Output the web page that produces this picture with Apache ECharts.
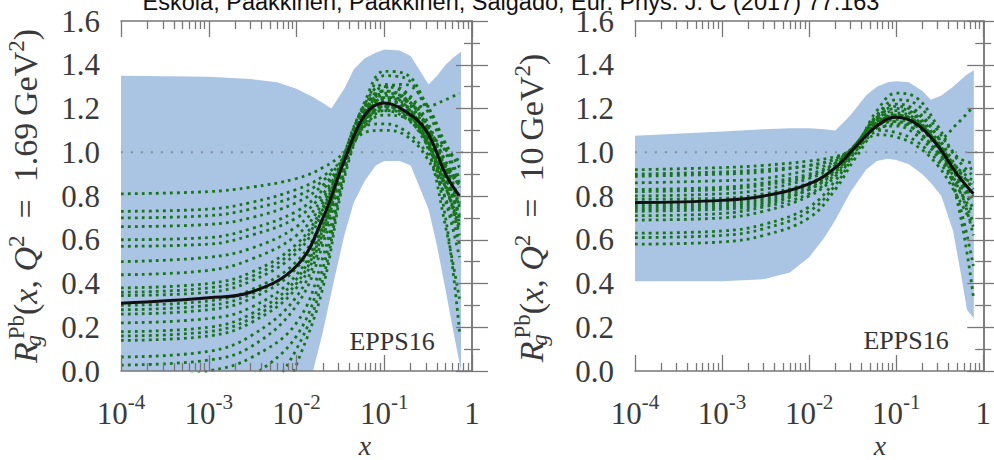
<!DOCTYPE html>
<html>
<head>
<meta charset="utf-8">
<title>EPPS16 gluon nuclear modification, Pb</title>
<script src="https://cdn.jsdelivr.net/npm/echarts@6/dist/echarts.min.js"></script>
<style>
  html, body { margin: 0; padding: 0; background: #ffffff; }
  #chart { width: 994px; height: 460px; }
</style>
</head>
<body>
<div id="chart"></div>
<script>
// ---------- axes ----------
const decadeExponents = [-4, -3, -2, -1, 0];          // 10^-4 ... 1
const minorMultipliers = [2, 3, 4, 5, 6, 7, 8, 9];    // minor ticks inside each decade
const yTickStep = 0.2;
const refLevel = 1.0;

// ---------- Q^2 = 1.69 GeV^2 ----------
const lowBandX     = [1e-4, 1e-3, 3e-3, 0.006, 0.01, 0.015, 0.02, 0.025, 0.035, 0.045, 0.06, 0.08, 0.1, 0.15, 0.2, 0.32, 0.4, 0.5, 0.6, 0.75];
const lowBandUpper = [1.35, 1.345, 1.335, 1.32, 1.29, 1.255, 1.225, 1.20, 1.29, 1.38, 1.43, 1.455, 1.47, 1.465, 1.44, 1.31, 1.35, 1.40, 1.43, 1.46];
const lowBandLower = [-0.6, -0.6, -0.55, -0.45, -0.25, -0.02, 0.18, 0.36, 0.62, 0.77, 0.87, 0.94, 0.96, 0.96, 0.94, 0.74, 0.57, 0.37, 0.20, 0.0];

const lowCurveX  = [1e-4, 1e-3, 3e-3, 0.01, 0.02, 0.035, 0.06, 0.1, 0.17, 0.3, 0.5, 0.72];
const lowCentral = [0.31, 0.335, 0.36, 0.48, 0.70, 0.96, 1.17, 1.225, 1.19, 1.10, 0.90, 0.80];
const lowMembers = [
  [0.81, 0.82, 0.84, 0.88, 0.93, 1.00, 1.12, 1.19, 1.18, 1.07, 0.93, 0.85],
  [0.73, 0.74, 0.77, 0.83, 0.89, 0.98, 1.15, 1.25, 1.24, 1.12, 0.96, 0.84],
  [0.70, 0.71, 0.74, 0.80, 0.87, 0.98, 1.17, 1.29, 1.31, 1.22, 1.04, 0.93],
  [0.66, 0.67, 0.70, 0.77, 0.85, 0.96, 1.13, 1.21, 1.19, 1.09, 0.92, 0.79],
  [0.60, 0.61, 0.65, 0.73, 0.83, 0.97, 1.18, 1.30, 1.27, 1.13, 0.92, 0.75],
  [0.57, 0.58, 0.62, 0.70, 0.81, 0.96, 1.12, 1.17, 1.16, 1.10, 1.01, 0.96],
  [0.50, 0.52, 0.56, 0.66, 0.79, 0.97, 1.20, 1.35, 1.34, 1.20, 1.00, 0.86],
  [0.44, 0.46, 0.51, 0.62, 0.77, 0.97, 1.14, 1.21, 1.21, 1.21, 1.24, 1.27],
  [0.38, 0.40, 0.45, 0.58, 0.75, 0.97, 1.19, 1.27, 1.25, 1.13, 0.95, 0.77],
  [0.36, 0.38, 0.43, 0.56, 0.74, 0.96, 1.16, 1.23, 1.21, 1.09, 0.89, 0.70],
  [0.345, 0.36, 0.41, 0.54, 0.73, 0.98, 1.23, 1.37, 1.36, 1.22, 1.02, 0.88],
  [0.30, 0.32, 0.37, 0.50, 0.70, 0.98, 1.17, 1.21, 1.17, 1.04, 0.84, 0.68],
  [0.28, 0.30, 0.35, 0.48, 0.69, 0.97, 1.15, 1.19, 1.16, 1.06, 0.94, 0.87],
  [0.26, 0.28, 0.33, 0.47, 0.69, 0.99, 1.21, 1.28, 1.24, 1.10, 0.89, 0.71],
  [0.22, 0.24, 0.29, 0.44, 0.67, 0.97, 1.12, 1.13, 1.10, 1.00, 0.84, 0.66],
  [0.18, 0.20, 0.26, 0.42, 0.66, 0.98, 1.18, 1.24, 1.21, 1.08, 0.87, 0.72],
  [0.16, 0.18, 0.24, 0.40, 0.65, 0.99, 1.22, 1.31, 1.28, 1.15, 0.93, 0.76],
  [0.14, 0.16, 0.22, 0.38, 0.63, 0.96, 1.09, 1.10, 1.08, 0.98, 0.79, 0.58],
  [0.064, 0.09, 0.16, 0.34, 0.61, 0.97, 1.18, 1.25, 1.22, 1.07, 0.78, 0.52],
  [0.027, 0.05, 0.11, 0.30, 0.58, 0.95, 1.16, 1.24, 1.20, 1.04, 0.66, 0.33],
  [-0.05, 0.00, 0.06, 0.22, 0.52, 0.93, 1.20, 1.28, 1.25, 1.08, 0.70, 0.18],
  [-0.30, -0.15, -0.03, 0.16, 0.47, 0.92, 1.19, 1.26, 1.22, 1.06, 0.84, 0.64],
  [-0.60, -0.45, -0.20, 0.10, 0.42, 0.90, 1.15, 1.22, 1.19, 1.06, 0.88, 0.76],
  [-0.90, -0.75, -0.45, 0.03, 0.38, 0.88, 1.14, 1.20, 1.18, 1.05, 0.85, 0.62]
];

// ---------- Q^2 = 10 GeV^2 ----------
const highBandX     = [1e-4, 1e-3, 3e-3, 0.006, 0.01, 0.015, 0.02, 0.03, 0.045, 0.06, 0.08, 0.1, 0.14, 0.2, 0.25, 0.33, 0.45, 0.55, 0.65, 0.78];
const highBandUpper = [1.075, 1.095, 1.105, 1.11, 1.11, 1.105, 1.10, 1.17, 1.26, 1.30, 1.32, 1.325, 1.32, 1.28, 1.24, 1.26, 1.30, 1.33, 1.355, 1.375];
const highBandLower = [0.41, 0.41, 0.42, 0.45, 0.52, 0.61, 0.69, 0.82, 0.92, 0.96, 0.97, 0.965, 0.945, 0.90, 0.86, 0.80, 0.64, 0.45, 0.28, 0.24];

const highCurveX  = [1e-4, 1e-3, 3e-3, 0.01, 0.02, 0.035, 0.06, 0.1, 0.17, 0.3, 0.5, 0.77];
const highCentral = [0.77, 0.78, 0.80, 0.855, 0.93, 1.03, 1.12, 1.16, 1.13, 1.03, 0.90, 0.81];
const highMembers = [
  [0.92, 0.93, 0.94, 0.96, 0.98, 1.02, 1.10, 1.13, 1.10, 1.00, 0.90, 0.86],
  [0.90, 0.91, 0.92, 0.94, 0.97, 1.04, 1.19, 1.27, 1.25, 1.12, 0.98, 0.95],
  [0.89, 0.90, 0.91, 0.94, 0.97, 1.03, 1.13, 1.17, 1.14, 1.04, 0.93, 0.87],
  [0.86, 0.87, 0.88, 0.92, 0.96, 1.04, 1.17, 1.24, 1.22, 1.10, 0.97, 0.89],
  [0.83, 0.84, 0.86, 0.90, 0.95, 1.03, 1.12, 1.15, 1.12, 1.02, 0.89, 0.80],
  [0.82, 0.83, 0.85, 0.89, 0.95, 1.04, 1.16, 1.21, 1.18, 1.07, 0.93, 0.83],
  [0.80, 0.81, 0.83, 0.88, 0.94, 1.03, 1.12, 1.14, 1.12, 1.06, 1.13, 1.21],
  [0.785, 0.79, 0.81, 0.86, 0.93, 1.04, 1.16, 1.20, 1.17, 1.05, 0.89, 0.74],
  [0.76, 0.77, 0.79, 0.85, 0.93, 1.03, 1.15, 1.18, 1.15, 1.03, 0.85, 0.68],
  [0.75, 0.76, 0.78, 0.84, 0.92, 1.02, 1.11, 1.12, 1.08, 0.98, 0.86, 0.80],
  [0.74, 0.75, 0.77, 0.83, 0.92, 1.04, 1.14, 1.16, 1.13, 1.01, 0.80, 0.48],
  [0.73, 0.74, 0.76, 0.83, 0.91, 1.03, 1.17, 1.22, 1.19, 1.07, 0.88, 0.62],
  [0.71, 0.72, 0.75, 0.81, 0.90, 1.03, 1.14, 1.17, 1.14, 1.03, 0.78, 0.34],
  [0.69, 0.70, 0.73, 0.80, 0.89, 1.02, 1.15, 1.19, 1.16, 1.04, 0.89, 0.78],
  [0.63, 0.64, 0.67, 0.75, 0.87, 1.01, 1.12, 1.14, 1.10, 1.00, 0.91, 0.93],
  [0.61, 0.62, 0.65, 0.73, 0.85, 1.00, 1.10, 1.09, 1.05, 0.96, 0.84, 0.72],
  [0.58, 0.59, 0.62, 0.70, 0.83, 0.98, 1.08, 1.07, 1.03, 0.94, 0.80, 0.66],
  [0.77, 0.78, 0.80, 0.855, 0.93, 1.03, 1.13, 1.17, 1.14, 1.04, 0.92, 0.84]
];

// ---------- text ----------
const headerText = 'Eskola, Paakkinen, Paakkinen, Salgado, Eur. Phys. J. C (2017) 77:163';
const setLabel = 'EPPS16';
const xTitle = 'x';
const lowYTitle  = '{it|R}{sub|g}{sup|Pb}{rm|(}{it|x}{rm|,\u2005}{it|Q}{sup|2}{rm|\u2002=\u20021.69\u2009GeV}{sup|2}{rm|)}';
const highYTitle = '{it|R}{sub|g}{sup|Pb}{rm|(}{it|x}{rm|,\u2005}{it|Q}{sup|2}{rm|\u2002=\u200210\u2009GeV}{sup|2}{rm|)}';

// ---------- styling ----------
const serif = '"Liberation Serif", "DejaVu Serif", serif';
const textGrey = '#3a3a3a';
const frameGrey = '#777777';
const bandColor = '#aac4e4';
const memberColor = '#177517';

const titleRich = {
  it:  { fontFamily: serif, fontSize: 34, fontStyle: 'italic', color: textGrey },
  rm:  { fontFamily: serif, fontSize: 34, color: textGrey },
  sub: { fontFamily: serif, fontSize: 23, fontStyle: 'italic', color: textGrey, padding: [16, 0, 0, 0], width: 3 },
  sup: { fontFamily: serif, fontSize: 23, color: textGrey, padding: [0, 0, 18, 0] }
};

const minorTickPositions = [];
decadeExponents.slice(0, -1).forEach(e => {
  minorMultipliers.forEach(m => minorTickPositions.push(e + Math.log10(m)));
});

function decadeLabel(v) {
  return v === 0 ? '{b|1}' : '{b|10}{s|' + v + '}';
}

function xAxesFor(gridIndex) {
  const base = { type: 'value', gridIndex, min: -4, max: 0, interval: 1, splitLine: { show: false }, z: 5 };
  const tickLine = { color: frameGrey, width: 1.3 };
  return [
    // log axis that carries the curves
    { type: 'log', gridIndex, logBase: 10, min: 1e-4, max: 1, show: false },
    Object.assign({}, base, {
      position: 'bottom',
      axisLine: { show: true, lineStyle: { color: frameGrey, width: 1.5 } },
      axisTick: { show: true, inside: true, length: 16, lineStyle: tickLine },
      axisLabel: {
        margin: 27, formatter: decadeLabel,
        rich: {
          b: { fontFamily: serif, fontSize: 31, color: textGrey, lineHeight: 31 },
          s: { fontFamily: serif, fontSize: 21, color: textGrey, lineHeight: 31, padding: [0, 0, 24, 0] }
        }
      }
    }),
    Object.assign({}, base, {
      position: 'bottom',
      axisLine: { show: false },
      axisTick: { show: true, inside: true, length: 8, lineStyle: tickLine, customValues: minorTickPositions },
      axisLabel: { show: false }
    }),
    Object.assign({}, base, {
      position: 'top',
      axisLine: { show: true, lineStyle: { color: frameGrey, width: 1.5 } },
      axisTick: { show: true, inside: true, length: 16, lineStyle: tickLine },
      axisLabel: { show: false }
    }),
    Object.assign({}, base, {
      position: 'top',
      axisLine: { show: false },
      axisTick: { show: true, inside: true, length: 8, lineStyle: tickLine, customValues: minorTickPositions },
      axisLabel: { show: false }
    })
  ];
}

function yAxesFor(gridIndex, title, nameGap, namePadding) {
  const tickLine = { color: frameGrey, width: 1.3 };
  const base = {
    type: 'value', gridIndex, min: 0, max: 1.6, interval: yTickStep,
    splitLine: { show: false }, z: 5,
    axisLine: { show: true, lineStyle: { color: frameGrey, width: 1.5 } },
    axisTick: { show: true, inside: true, length: 16, lineStyle: tickLine },
    minorTick: { show: true, splitNumber: 2, length: 8, lineStyle: tickLine }
  };
  return [
    Object.assign({}, base, {
      position: 'left',
      axisLabel: { margin: 21, fontFamily: serif, fontSize: 31, color: textGrey, formatter: v => v.toFixed(1) },
      name: title, nameLocation: 'middle', nameRotate: 90, nameGap,
      nameTextStyle: { rich: titleRich, color: textGrey, padding: namePadding }
    }),
    Object.assign({}, base, { position: 'right', axisLabel: { show: false } })
  ];
}

function bandSeries(xIdx, yIdx, xs, upper, lower) {
  return {
    type: 'custom', xAxisIndex: xIdx, yAxisIndex: yIdx, silent: true,
    data: [[xs[0], upper[0]]],
    renderItem(params, api) {
      const top = xs.map((x, i) => api.coord([x, upper[i]]));
      const bottom = xs.map((x, i) => api.coord([x, lower[i]])).reverse();
      const cs = params.coordSys;
      return {
        type: 'polygon',
        shape: { points: top.concat(bottom) },
        style: { fill: bandColor },
        clipPath: { type: 'rect', shape: { x: cs.x, y: cs.y, width: cs.width, height: cs.height } }
      };
    }
  };
}

function curveSeries(xIdx, yIdx, xs, ys, lineStyle) {
  return {
    type: 'line', xAxisIndex: xIdx, yAxisIndex: yIdx, silent: true,
    data: xs.map((x, i) => [x, ys[i]]),
    smooth: 0.4, symbol: 'none', clip: true, lineStyle
  };
}

function panelSeries(xIdx, yIdx, bandX, upper, lower, curveX, members, central) {
  const list = [bandSeries(xIdx, yIdx, bandX, upper, lower)];
  list.push(curveSeries(xIdx, yIdx, [1e-4, 1], [refLevel, refLevel],
    { color: '#858b96', width: 2, type: [2, 8] }));
  members.forEach(m => list.push(curveSeries(xIdx, yIdx, curveX, m,
    { color: memberColor, width: 2.8, type: [2.8, 4.2] })));
  list.push(curveSeries(xIdx, yIdx, curveX, central, { color: '#111111', width: 3 }));
  return list;
}

const chart = echarts.init(document.getElementById('chart'), null, { renderer: 'svg' });

chart.setOption({
  animation: false,
  backgroundColor: '#ffffff',
  grid: [
    { left: 121, top: 21, width: 351, height: 350 },
    { left: 635, top: 21, width: 349, height: 350 }
  ],
  xAxis: xAxesFor(0).concat(xAxesFor(1)),
  yAxis: yAxesFor(0, lowYTitle, 75, 0).concat(yAxesFor(1, highYTitle, 83, [0, 24, 0, 0])),
  series: panelSeries(0, 0, lowBandX, lowBandUpper, lowBandLower, lowCurveX, lowMembers, lowCentral)
    .concat(panelSeries(5, 2, highBandX, highBandUpper, highBandLower, highCurveX, highMembers, highCentral)),
  graphic: [
    { type: 'text', x: 511, y: 2, style: { text: headerText, font: '23.5px "Liberation Sans", Arial, sans-serif', fill: '#111111', align: 'center', verticalAlign: 'middle' } },
    { type: 'text', x: 392, y: 341, z: 10, style: { text: setLabel, font: '26px ' + serif, fill: '#333333', align: 'center', verticalAlign: 'middle' } },
    { type: 'text', x: 906, y: 340, z: 10, style: { text: setLabel, font: '26px ' + serif, fill: '#333333', align: 'center', verticalAlign: 'middle' } },
    { type: 'text', x: 365, y: 445, style: { text: xTitle, font: 'italic 28px ' + serif, fill: textGrey, align: 'center', verticalAlign: 'middle' } },
    { type: 'text', x: 880, y: 445, style: { text: xTitle, font: 'italic 28px ' + serif, fill: textGrey, align: 'center', verticalAlign: 'middle' } }
  ]
});
</script>
</body>
</html>
